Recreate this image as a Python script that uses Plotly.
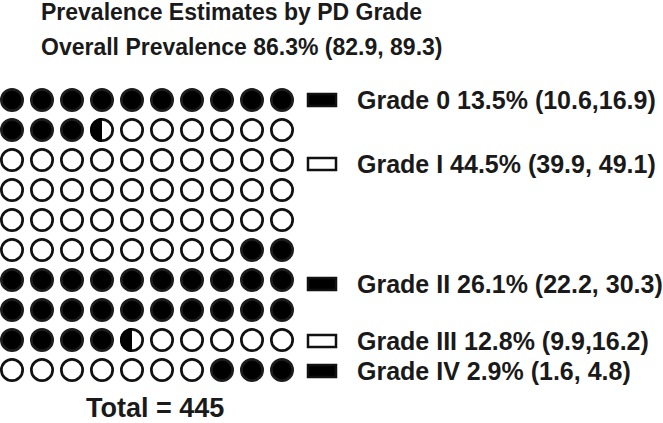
import numpy as np
import plotly.graph_objects as go

# ---------------- data ----------------
grades = ["Grade 0", "Grade I", "Grade II", "Grade III", "Grade IV"]
prevalence = [13.5, 44.5, 26.1, 12.8, 2.9]
ci_text = ["(10.6,16.9)", "(39.9, 49.1)", "(22.2, 30.3)", "(9.9,16.2)", "(1.6, 4.8)"]
half_cells = [27, 89, 53, 25, 6]          # half-circles per grade in the 10x10 waffle
filled = [True, False, True, False, True]  # solid or open symbol
title_lines = ["Prevalence Estimates by PD Grade",
               "Overall Prevalence 86.3% (82.9, 89.3)"]
total_n = 445
n_cols = 10
n_rows = 10

# ---------------- layout helpers (pixel -> cell units) ----------------
W, H = 663, 423
X0, Y0, STEP = 12.0, 100.0, 30.0
def px_x(p): return (p - X0) / STEP
def px_y(p): return (p - Y0) / STEP

legend_y_px = [100, 164, 284, 341, 371]
FONT_LBL = dict(family="Liberation Sans", size=25, color="#1a1a1a", weight="bold")
FONT_TTL = dict(family="Liberation Sans", size=23, color="#1a1a1a", weight="bold")
FONT_TOT = dict(family="Liberation Sans", size=27, color="#1a1a1a", weight="bold")

# ---------------- build waffle cells ----------------
seq = []
for n, f in zip(half_cells, filled):
    seq += [f] * n
cells = [(seq[2 * i], seq[2 * i + 1]) for i in range(len(seq) // 2)]

full_x, full_y, open_x, open_y, half_x, half_y = [], [], [], [], [], []
for i, (a, b) in enumerate(cells):
    c, r = i % n_cols, i // n_cols
    if a and b:
        full_x.append(c); full_y.append(r)
    elif not a and not b:
        open_x.append(c); open_y.append(r)
    else:
        half_x.append(c); half_y.append(r)

MS, LW = 21.3, 2.7
fig = go.Figure()
fig.add_trace(go.Scatter(x=full_x, y=full_y, mode="markers", hoverinfo="skip",
                         marker=dict(symbol="circle", size=MS, color="#000000",
                                     line=dict(color="#1c1c1c", width=LW))))
fig.add_trace(go.Scatter(x=open_x + half_x, y=open_y + half_y, mode="markers", hoverinfo="skip",
                         marker=dict(symbol="circle", size=MS, color="#ffffff",
                                     line=dict(color="#111111", width=LW))))
# left half filled for split cells
R = (MS + LW) / 2 / STEP
th = np.linspace(np.pi / 2, 3 * np.pi / 2, 40)
for cx, cy in zip(half_x, half_y):
    xs = list(cx + R * np.cos(th)) + [cx + R * np.cos(th[0])]
    ys = list(cy + R * np.sin(th)) + [cy + R * np.sin(th[0])]
    fig.add_trace(go.Scatter(x=xs, y=ys, mode="lines", fill="toself", fillcolor="#000000",
                             line=dict(width=0, color="#000000"), hoverinfo="skip"))

# legend rectangles + labels
for g, p, ci, f, ly in zip(grades, prevalence, ci_text, filled, legend_y_px):
    fig.add_shape(type="rect", x0=px_x(308), x1=px_x(336), y0=px_y(ly - 6), y1=px_y(ly + 6),
                  fillcolor="#000000" if f else "#ffffff",
                  line=dict(color="#111111", width=2.5))
    fig.add_annotation(x=px_x(355), y=px_y(ly), xref="x", yref="y", showarrow=False,
                       xanchor="left", yanchor="middle", text=f"{g} {p}% {ci}", font=FONT_LBL)

# titles
for line, ty in zip(title_lines, [12, 47]):
    fig.add_annotation(x=px_x(39), y=px_y(ty), xref="x", yref="y", showarrow=False,
                       xanchor="left", yanchor="middle", text=line, font=FONT_TTL)
fig.add_annotation(x=px_x(155), y=px_y(408), xref="x", yref="y", showarrow=False,
                   xanchor="center", yanchor="middle", text=f"Total = {total_n}", font=FONT_TOT)

fig.update_layout(width=W, height=H, margin=dict(l=0, r=0, t=0, b=0),
                  paper_bgcolor="white", plot_bgcolor="white", showlegend=False,
                  xaxis=dict(range=[px_x(0), px_x(W)], visible=False, fixedrange=True),
                  yaxis=dict(range=[px_y(H), px_y(0)], visible=False, fixedrange=True))
fig.write_html("out.html", config={"displayModeBar": False},
               post_script="document.body.style.margin='0px';document.body.style.overflow='hidden';")
